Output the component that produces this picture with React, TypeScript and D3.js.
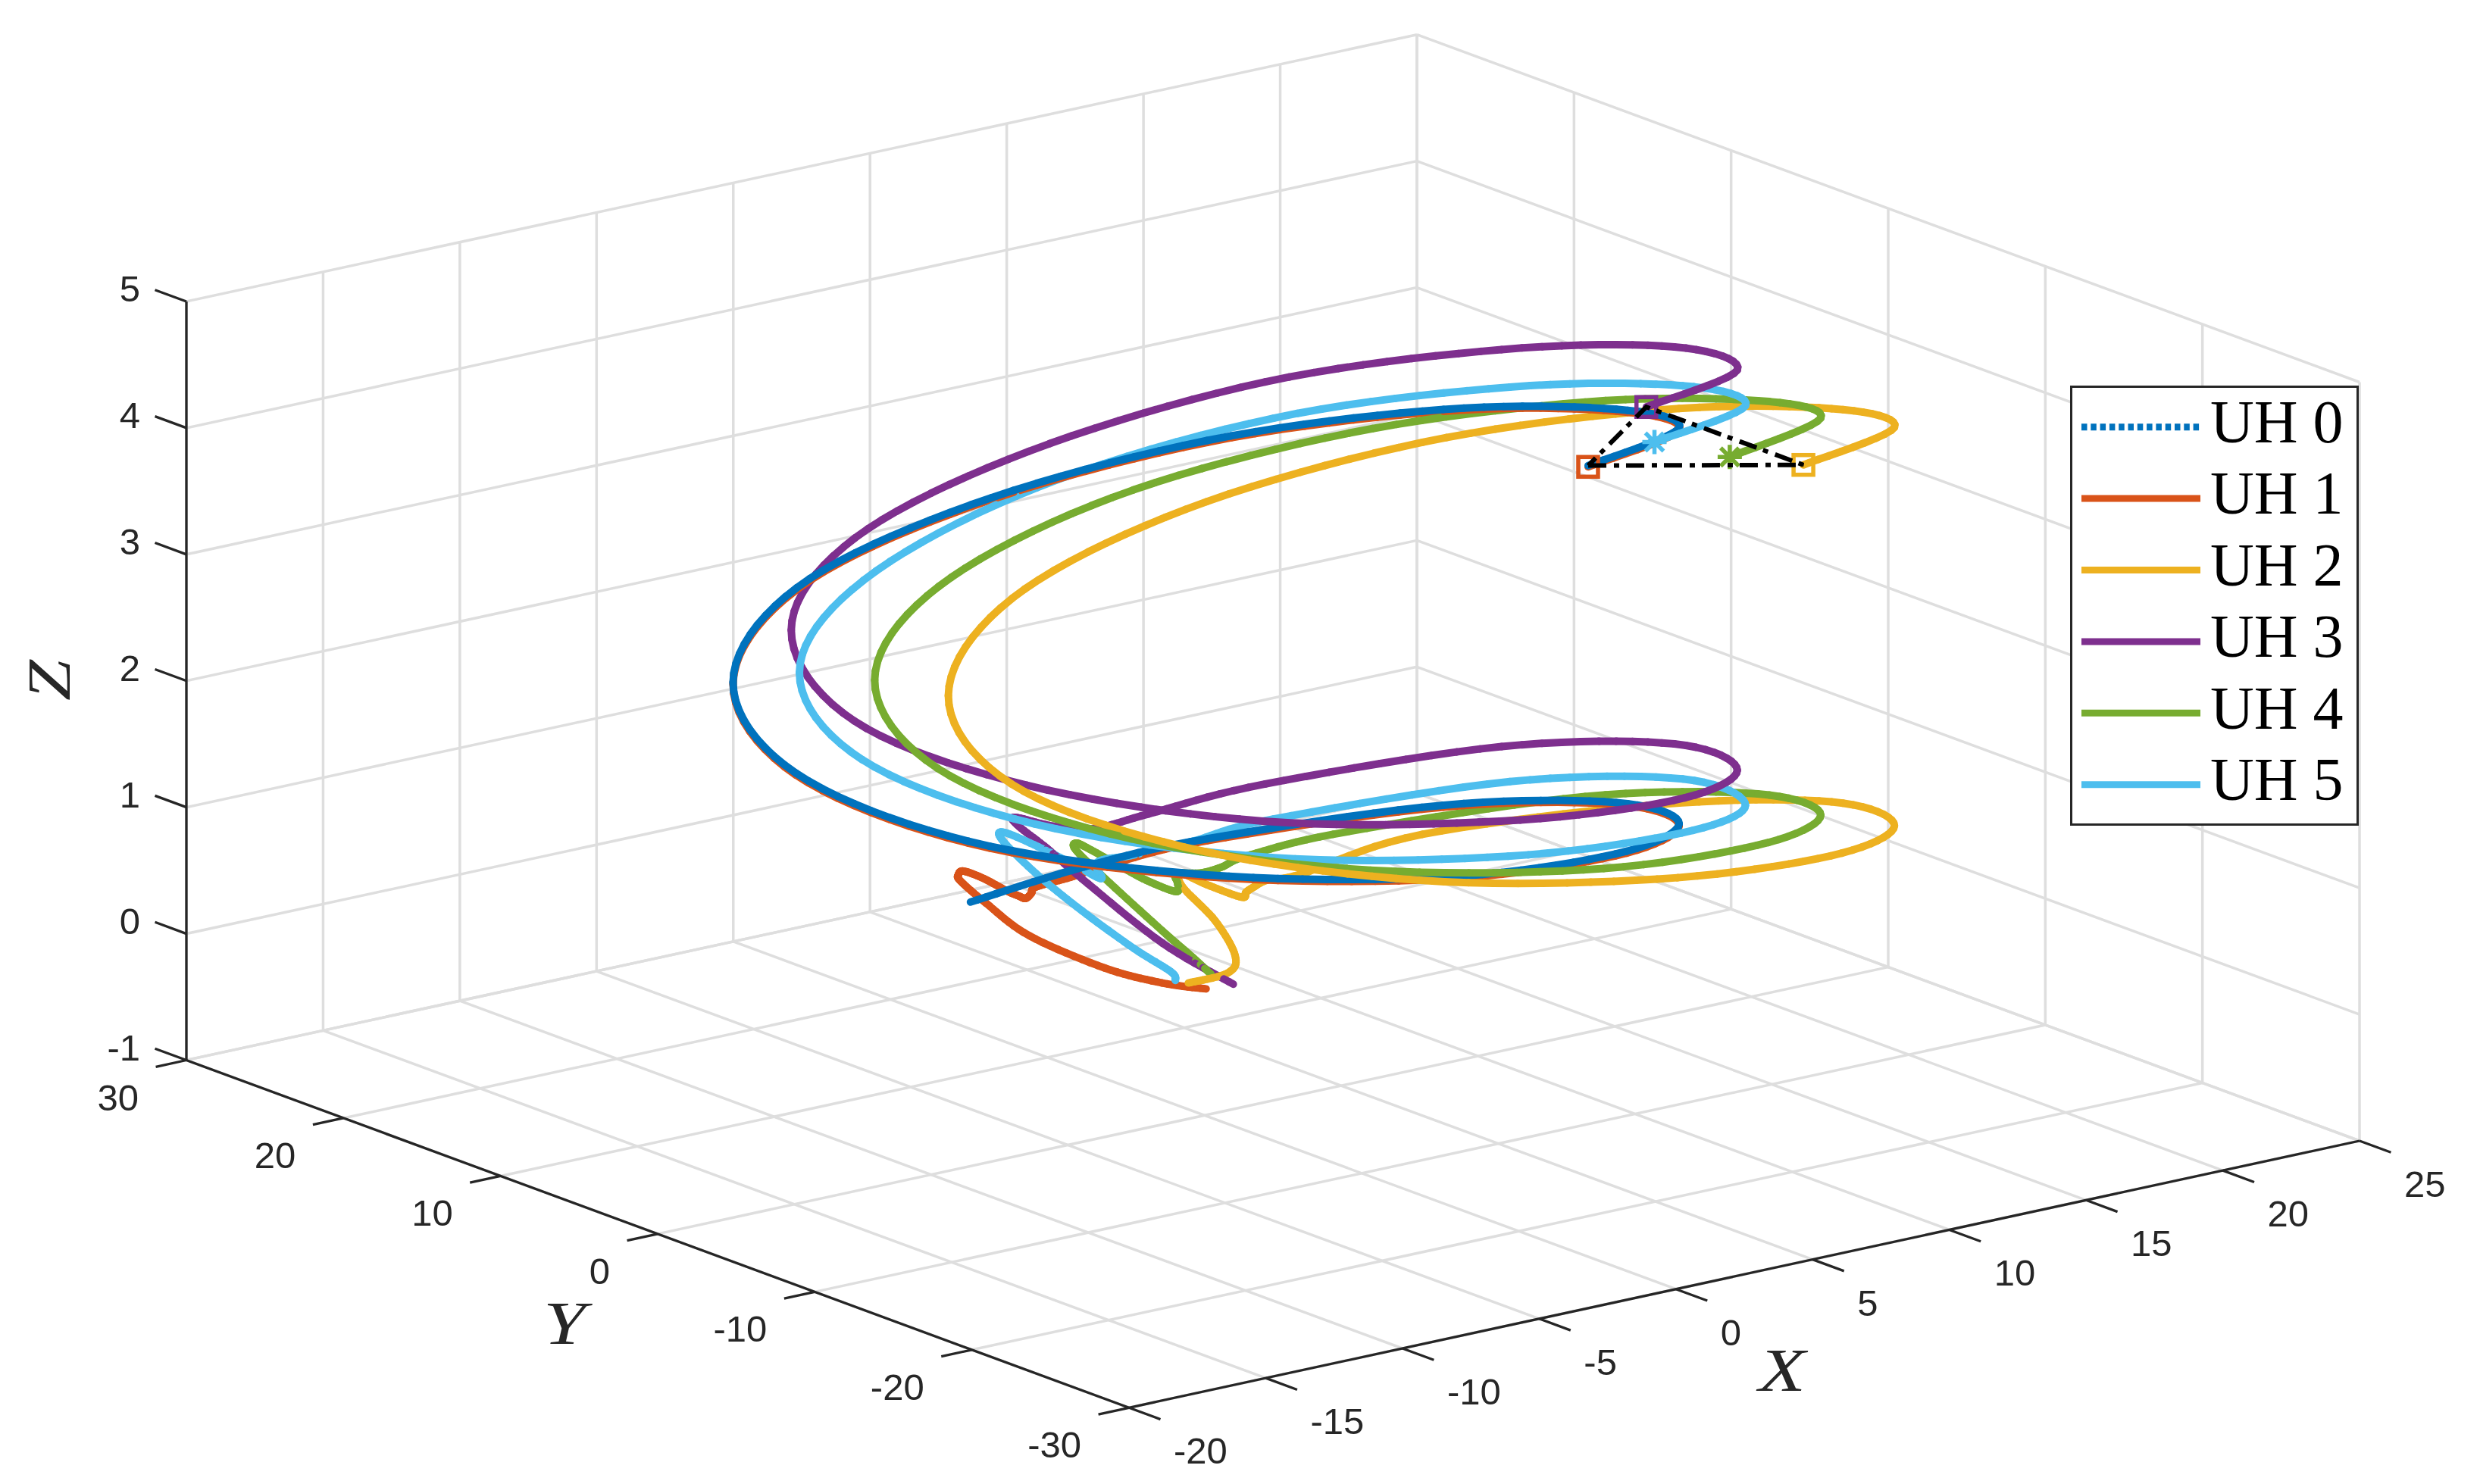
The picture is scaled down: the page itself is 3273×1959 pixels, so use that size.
import React from "react";
import * as d3 from "d3";

const W = 3273, H = 1959;
const xTicks = [-20, -15, -10, -5, 0, 5, 10, 15, 20, 25];
const yTicks = [-30, -20, -10, 0, 10, 20, 30];
const zTicks = [-1, 0, 1, 2, 3, 4, 5];
const colors = ["#0072BD", "#D95319", "#EDB120", "#7E2F8E", "#77AC30", "#4DBEEE"];
const names = ["UH 0", "UH 1", "UH 2", "UH 3", "UH 4", "UH 5"];

const uh0x = [6.1, 12.99, 15, 12.99, 7.5, 0, -7.5, -12.99, -15, -12.99, -7.5, 0, 7.5, 12.99, 15, 12.99, 7.5, 3.88, 0];
const uh0y = [-13.7, -7.5, 0, 7.5, 12.99, 15, 12.99, 7.5, 0, -7.5, -12.99, -15, -12.99, -7.5, 0, 7.5, 12.99, 14.49, 15];
const uh0z = [4.48, 4.17, 3.88, 3.63, 3.39, 3.14, 2.93, 2.69, 2.41, 2.12, 1.85, 1.57, 1.31, 1.04, 0.77, 0.5, 0.24, 0.12, 0];

const uh1x = [6.1, 12.99, 15, 12.99, 7.5, 0, -7.5, -12.99, -15, -12.99, -7.5, 0, 7.5, 12.99, 15, 12.99, 7.5, 4.26, 3.07, 2.12, 1.71, 1.34, 1.41, 1.53, 1.77, 1.77, 1.42, 1.08, 0.28, -0.75, -1.03, -0.64, 0];
const uh1y = [-13.7, -7.5, 0, 7.5, 12.99, 15, 12.99, 7.5, 0, -7.5, -12.99, -15, -12.99, -7.5, 0, 7.5, 12.99, 13.81, 13.96, 14.53, 14.1, 13.82, 14.4, 15.35, 17.23, 18.52, 18.24, 17.51, 14.48, 9.94, 4.67, 1.68, 0];
const uh1z = [4.47, 4.155, 3.865, 3.615, 3.375, 3.125, 2.915, 2.675, 2.395, 2.105, 1.835, 1.555, 1.295, 1.025, 0.755, 0.485, 0.225, 0.14, 0.1, 0.04, 0.03, 0.02, 0.01, 0, 0, 0, 0, 0, 0, 0, 0, 0, 0];

const uh2x = [11.1, 17.99, 20, 17.99, 12.5, 5, -2.5, -7.99, -10, -7.99, -2.5, 5, 12.5, 17.99, 20, 17.99, 12.5, 8.72, 7.76, 7.05, 6.56, 6.23, 6.21, 6.3, 5.59, 4.3, 2.66, 1.49, -0.04];
const uh2y = [-18.7, -12.5, -5, 2.5, 7.99, 10, 7.99, 2.5, -5, -12.5, -17.99, -20, -17.99, -12.5, -5, 2.5, 7.99, 9.14, 9.57, 9.25, 8.88, 8.59, 10.76, 12.56, 11.23, 6.9, 2.78, 1.22, 1.06];
const uh2z = [4.48, 4.17, 3.88, 3.62, 3.37, 3.1, 2.84, 2.58, 2.32, 2.07, 1.8, 1.55, 1.29, 1.02, 0.77, 0.5, 0.27, 0.08, 0.06, 0.05, 0.05, 0.04, 0.04, 0.04, 0.03, 0.02, 0.01, 0, 0];

const uh3x = [11.1, 17.99, 20, 17.99, 12.5, 5, -2.5, -7.99, -10, -7.99, -2.5, 5, 12.5, 17.99, 20, 17.99, 12.5, 8.83, 6.63, 5.85, 5.53, 5.26, 4.71, 3.79, 1.77, 0.92];
const uh3y = [-8.7, -2.5, 5, 12.5, 17.99, 20, 17.99, 12.5, 5, -2.5, -7.99, -10, -7.99, -2.5, 5, 12.5, 17.99, 19, 18.69, 19.92, 21.76, 21.18, 18.3, 14.51, 5.85, -0.13];
const uh3z = [4.48, 4.165, 3.91, 3.64, 3.39, 3.1, 2.86, 2.64, 2.36, 2.1, 1.81, 1.55, 1.27, 1.0, 0.77, 0.5, 0.21, 0.1, 0.1, 0.1, 0.1, 0.08, 0.05, 0.03, 0.01, 0];

const uh4x = [9.9, 16.79, 18.8, 16.79, 11.3, 3.8, -3.7, -9.19, -11.2, -9.19, -3.7, 3.8, 11.3, 16.79, 18.8, 16.79, 11.3, 8.44, 7.15, 6.48, 6.02, 5.53, 5.07, 5.08, 5.34, 5.79, 5.88, 5.44, 4.4, 2.54, 1.72, 1.03];
const uh4y = [-16.1, -9.9, -2.4, 5.1, 10.59, 12.6, 10.59, 5.1, -2.4, -9.9, -15.39, -17.4, -15.39, -9.9, -2.4, 5.1, 10.59, 11.88, 11.49, 11.63, 12.38, 11.43, 10.74, 12.52, 14.63, 17.41, 18.48, 17.76, 14.09, 7.21, 3.96, 1.48];
const uh4z = [4.48, 4.18, 3.88, 3.62, 3.38, 3.13, 2.87, 2.64, 2.38, 2.11, 1.83, 1.56, 1.31, 1.04, 0.77, 0.5, 0.23, 0.12, 0.1, 0.08, 0.06, 0.05, 0.04, 0.04, 0.04, 0.03, 0.03, 0.03, 0.02, 0.01, 0, 0];

const uh5x = [9.1, 15.99, 18, 15.99, 10.5, 3, -4.5, -9.99, -12, -9.99, -4.5, 3, 10.5, 15.99, 18, 15.99, 10.5, 8.14, 5.94, 4.89, 4.35, 4.08, 4.29, 4.59, 4.73, 4.29, 3.05, 1.86, 0.79, 0.26, -0.18];
const uh5y = [-12.7, -6.5, 1, 8.5, 13.99, 16, 13.99, 8.5, 1, -6.5, -11.99, -14, -11.99, -6.5, 1, 8.5, 13.99, 14.99, 14.88, 15.09, 14.57, 13.78, 15.72, 18.43, 21.07, 20.45, 16.13, 11.14, 5.99, 2.69, 1.64];
const uh5z = [4.48, 4.16, 3.88, 3.62, 3.38, 3.09, 2.8, 2.58, 2.33, 2.07, 1.8, 1.55, 1.29, 1.0, 0.77, 0.5, 0.21, 0.1, 0.1, 0.1, 0.1, 0.05, 0.05, 0.05, 0.05, 0.04, 0.03, 0.02, 0.01, 0, 0];

const triX = [6.1, 11.1, 11.1, 6.1];
const triY = [-13.7, -18.7, -8.7, -13.7];
const triZ = [4.48, 4.48, 4.48, 4.48];

const series = [
  { x: uh0x, y: uh0y, z: uh0z, c: 0, bias: 0 },
  { x: uh1x, y: uh1y, z: uh1z, c: 1, bias: 0.025 },
  { x: uh2x, y: uh2y, z: uh2z, c: 2, bias: 0 },
  { x: uh3x, y: uh3y, z: uh3z, c: 3, bias: 0 },
  { x: uh4x, y: uh4y, z: uh4z, c: 4, bias: 0 },
  { x: uh5x, y: uh5y, z: uh5z, c: 5, bias: 0 },
];

// oblique projection of the 3-D axes box onto the page
const sxX = d3.scaleLinear().domain([-20, 25]).range([1490, 3114]);
const syX = d3.scaleLinear().domain([-20, 25]).range([1858.3, 1506]);
const sxY = d3.scaleLinear().domain([-30, 30]).range([0, -1244]);
const syY = d3.scaleLinear().domain([-30, 30]).range([0, -458.8]);
const syZ = d3.scaleLinear().domain([-1, 5]).range([0, -1001.5]);
const P = (x: number, y: number, z: number): [number, number] => [sxX(x) + sxY(y), syX(x) + syY(y) + syZ(z)];
// distance from the viewer, used to paint far pieces of the curves first
const depth = (x: number, y: number, z: number) => 0.01024 * x + 0.01 * y - 0.0729 * z;

const straight = d3.line();

// Each span between neighbouring readings is a uniform Catmull-Rom cubic, cut into short
// pieces that are painted back to front so that the crossings overlap as in a 3-D view.
const SUB = 10;
const pieces: { d: string; color: string; depth: number; key: string }[] = [];
series.forEach((s, si) => {
  const pts = s.x.map((v, k) => P(v, s.y[k], s.z[k]));
  const n = pts.length;
  for (let k = 0; k < n - 1; k++) {
    const p0 = pts[Math.max(k - 1, 0)], p1 = pts[k], p2 = pts[k + 1], p3 = pts[Math.min(k + 2, n - 1)];
    const c1 = [p1[0] + (p2[0] - p0[0]) / 6, p1[1] + (p2[1] - p0[1]) / 6];
    const c2 = [p2[0] - (p3[0] - p1[0]) / 6, p2[1] - (p3[1] - p1[1]) / 6];
    const bez = (t: number): [number, number] => {
      const u = 1 - t;
      return [
        u * u * u * p1[0] + 3 * u * u * t * c1[0] + 3 * u * t * t * c2[0] + t * t * t * p2[0],
        u * u * u * p1[1] + 3 * u * u * t * c1[1] + 3 * u * t * t * c2[1] + t * t * t * p2[1],
      ];
    };
    const d1 = depth(s.x[k], s.y[k], s.z[k]), d2 = depth(s.x[k + 1], s.y[k + 1], s.z[k + 1]);
    for (let j = 0; j < SUB; j++) {
      const t0 = j / SUB, t1 = (j + 1) / SUB;
      pieces.push({
        d: straight([bez(t0), bez(t1)]) as string,
        color: colors[s.c],
        depth: d1 + (d2 - d1) * ((t0 + t1) / 2) + s.bias,
        key: `${si}-${k}-${j}`,
      });
    }
  }
});
pieces.sort((a, b) => d3.descending(a.depth, b.depth));

const GRID = "#dedede", AX = "#262626";
const TICKFONT = "'Liberation Sans', Arial, sans-serif";
const MATHFONT = "'Liberation Serif', serif";

function Seg({ a, b, color, w }: any) {
  return <line x1={a[0]} y1={a[1]} x2={b[0]} y2={b[1]} stroke={color} strokeWidth={w} />;
}

function Star({ p, color }: any) {
  const r = 16, d = 12;
  const v = `M${p[0]},${p[1] - r}V${p[1] + r}M${p[0] - r},${p[1]}H${p[0] + r}M${p[0] - d},${p[1] - d}L${p[0] + d},${p[1] + d}M${p[0] - d},${p[1] + d}L${p[0] + d},${p[1] - d}`;
  return <path d={v} stroke={color} strokeWidth={5.5} fill="none" />;
}

export default function App() {
  const xMin = -20, xMax = 25, yMin = -30, yMax = 30, zMin = -1, zMax = 5;
  return (
    <svg width={W} height={H} viewBox={`0 0 ${W} ${H}`} style={{ position: "absolute", left: 0, top: 0, background: "#fff" }}>
      <g>
        {xTicks.map((t) => (
          <g key={"gx" + t}>
            <Seg a={P(t, yMin, zMin)} b={P(t, yMax, zMin)} color={GRID} w={3.5} />
            <Seg a={P(t, yMax, zMin)} b={P(t, yMax, zMax)} color={GRID} w={3.5} />
          </g>
        ))}
        {yTicks.map((t) => (
          <g key={"gy" + t}>
            <Seg a={P(xMin, t, zMin)} b={P(xMax, t, zMin)} color={GRID} w={3.5} />
            <Seg a={P(xMax, t, zMin)} b={P(xMax, t, zMax)} color={GRID} w={3.5} />
          </g>
        ))}
        {zTicks.map((t) => (
          <g key={"gz" + t}>
            <Seg a={P(xMin, yMax, t)} b={P(xMax, yMax, t)} color={GRID} w={3.5} />
            <Seg a={P(xMax, yMax, t)} b={P(xMax, yMin, t)} color={GRID} w={3.5} />
          </g>
        ))}
      </g>
      <g>
        <Seg a={P(xMin, yMin, zMin)} b={P(xMax, yMin, zMin)} color={AX} w={3.3} />
        <Seg a={P(xMin, yMin, zMin)} b={P(xMin, yMax, zMin)} color={AX} w={3.3} />
        <Seg a={P(xMin, yMax, zMin)} b={P(xMin, yMax, zMax)} color={AX} w={3.3} />
        {xTicks.map((t) => {
          const p = P(t, yMin, zMin);
          return (
            <g key={"tx" + t}>
              <Seg a={p} b={P(t, yMin - 2, zMin)} color={AX} w={3.3} />
              <text x={p[0] + 59} y={p[1] + 74} fontFamily={TICKFONT} fontSize={49} fill={AX}>{t}</text>
            </g>
          );
        })}
        {yTicks.map((t) => {
          const p = P(xMin, t, zMin);
          return (
            <g key={"ty" + t}>
              <Seg a={p} b={P(xMin - 1.12, t, zMin)} color={AX} w={3.3} />
              <text x={p[0] - 63} y={p[1] + 66} textAnchor="end" fontFamily={TICKFONT} fontSize={49} fill={AX}>{t}</text>
            </g>
          );
        })}
        {zTicks.map((t) => {
          const p = P(xMin, yMax, t);
          return (
            <g key={"tz" + t}>
              <Seg a={p} b={P(xMin, yMax + 2, t)} color={AX} w={3.3} />
              <text x={p[0] - 61} y={p[1]} textAnchor="end" fontFamily={TICKFONT} fontSize={49} fill={AX}>{t}</text>
            </g>
          );
        })}
        <text x={2352} y={1836} textAnchor="middle" fontFamily={MATHFONT} fontStyle="italic" fontSize={80} fill={AX} textLength={62} lengthAdjust="spacingAndGlyphs">X</text>
        <text x={745} y={1774} textAnchor="middle" fontFamily={MATHFONT} fontStyle="italic" fontSize={80} fill={AX} textLength={56} lengthAdjust="spacingAndGlyphs">Y</text>
        <text transform="translate(92,898) rotate(-90)" textAnchor="middle" fontFamily={MATHFONT} fontStyle="italic" fontSize={80} fill={AX} textLength={54} lengthAdjust="spacingAndGlyphs">Z</text>
      </g>
      <g transform="translate(2,0)">
        <g fill="none" strokeLinecap="round">
          {pieces.map((p) => (
            <path key={p.key} d={p.d} stroke={p.color} strokeWidth={10} />
          ))}
        </g>
        {[1, 2, 3].map((i) => {
          const p = P(series[i].x[0], series[i].y[0], series[i].z[0]);
          return <rect key={i} x={p[0] - 13} y={p[1] - 13} width={26} height={26} fill="none" stroke={colors[i]} strokeWidth={5.5} />;
        })}
        {[5, 4].map((i) => (
          <Star key={i} p={P(series[i].x[0], series[i].y[0], series[i].z[0])} color={colors[i]} />
        ))}
        <path
          d={straight(triX.map((v, k) => P(v, triY[k], triZ[k]))) as string}
          fill="none" stroke="#000" strokeWidth={6} strokeDasharray="24 10 7 9"
        />
      </g>
      <g>
        <rect x={2733.5} y={510.5} width={378} height={578} fill="#fff" stroke={AX} strokeWidth={3} />
        {names.map((n, i) => {
          const yl = 563.7 + i * 94.4;
          return (
            <g key={n}>
              <line x1={2747} x2={2904} y1={yl} y2={yl} stroke={colors[i]} strokeWidth={9} strokeDasharray={i === 0 ? "7.5 4.8" : undefined} />
              <text x={2917} y={584 + i * 94.4} fontFamily={MATHFONT} fontSize={80} fill="#000" xmlSpace="preserve">{n}</text>
            </g>
          );
        })}
      </g>
    </svg>
  );
}
